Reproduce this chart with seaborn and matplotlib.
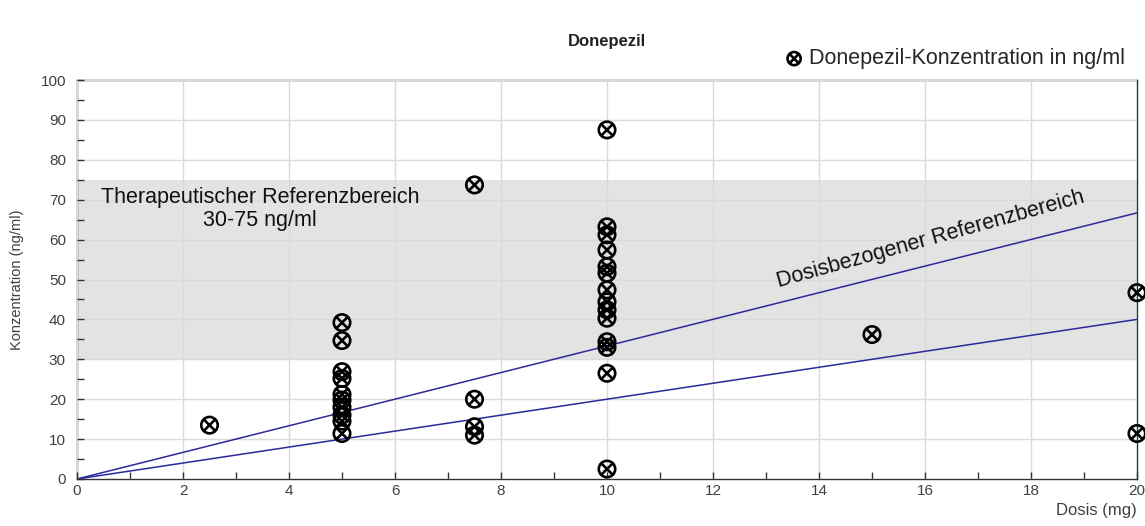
import matplotlib
matplotlib.use('Agg')
import matplotlib.pyplot as plt
import seaborn as sns
import pandas as pd
from matplotlib.path import Path
from matplotlib.ticker import MultipleLocator

# Daten
dosis = [2.5,
         5, 5, 5, 5, 5, 5, 5, 5, 5, 5,
         7.5, 7.5, 7.5, 7.5,
         10, 10, 10, 10, 10, 10, 10, 10, 10, 10, 10, 10, 10, 10,
         15,
         20, 20]
konz = [13.5,
        39.2, 34.7, 26.9, 25.2, 21.2, 19.8, 18.0, 16.0, 14.5, 11.4,
        73.7, 20.0, 13.1, 11.0,
        87.5, 63.2, 61.2, 57.4, 53.2, 51.6, 47.4, 44.4, 42.4, 40.3, 34.4, 33.0, 26.5, 2.5,
        36.2,
        46.7, 11.4]

linie_dosis = [0, 20]
linie_oben = [0, 66.7]
linie_unten = [0, 40]

ref_unten = 30
ref_oben = 75

df = pd.DataFrame({'Dosis': dosis, 'Konz': konz})

sns.set_style('white')
plt.rcParams['font.family'] = ['Liberation Sans', 'DejaVu Sans']

fig = plt.figure(figsize=(11.45, 5.26), dpi=100)
ax = fig.add_axes([77 / 1145, 1 - 479 / 526, 1060 / 1145, 399 / 526])

# Referenzbereich
ax.axhspan(ref_unten, ref_oben, color='#e3e3e3', zorder=0, lw=0)

# Kreis mit Kreuz als Marker
kreis = Path.unit_circle()
d = 0.7071
kreuz = Path([(-d, -d), (d, d), (-d, d), (d, -d)],
             [Path.MOVETO, Path.LINETO, Path.MOVETO, Path.LINETO])
marker = Path.make_compound_path(kreis, kreuz)

sns.lineplot(x=linie_dosis, y=linie_oben, color='#2a2a9a', lw=1.1, ax=ax, zorder=3)
sns.lineplot(x=linie_dosis, y=linie_unten, color='#2a2a9a', lw=1.1, ax=ax, zorder=3)

sns.scatterplot(data=df, x='Dosis', y='Konz', marker=marker, s=140,
                facecolor='none', edgecolor='black', linewidth=1.9,
                ax=ax, zorder=4, clip_on=False,
                label='Donepezil-Konzentration in ng/ml')

ax.set_xlim(0, 20)
ax.set_ylim(0, 100)
ax.xaxis.set_major_locator(MultipleLocator(2))
ax.xaxis.set_minor_locator(MultipleLocator(1))
ax.yaxis.set_major_locator(MultipleLocator(10))
ax.yaxis.set_minor_locator(MultipleLocator(5))
ax.tick_params(which='both', direction='in', length=5, width=1, color='#333333',
               labelsize=11, labelcolor='#404040', left=True, bottom=True)
ax.tick_params(axis='y', pad=8)
ax.grid(True, which='major', color='#dadada', lw=1, zorder=1)
ax.set_axisbelow(False)
for s in ax.spines.values():
    s.set_color('#333333')
    s.set_linewidth(1)

ax.set_xlabel('Dosis (mg)', loc='right', fontsize=12, color='#404040', labelpad=4)
ax.set_ylabel('Konzentration (ng/ml)', fontsize=10.5, color='#404040', labelpad=12)

ax.text(3.45, 73.2, 'Therapeutischer Referenzbereich\n30-75 ng/ml', ha='center', va='top',
        fontsize=15.5, color='#111111', linespacing=1.1, zorder=5)
ax.text(16.1, 60.0, 'Dosisbezogener Referenzbereich', ha='center', va='center',
        rotation=15.5, fontsize=15.5, color='#111111', zorder=5)

fig.text(0.530, 0.922, 'Donepezil', ha='center', va='center', fontsize=12,
         fontweight='bold', color='#222222')

ax.legend(loc='lower right', bbox_to_anchor=(0.999, 1.0), frameon=False,
          fontsize=15.5, markerscale=0.8, handletextpad=0.1, borderaxespad=0.1,
          handlelength=1.2)

fig.savefig('out.png', dpi=100)
